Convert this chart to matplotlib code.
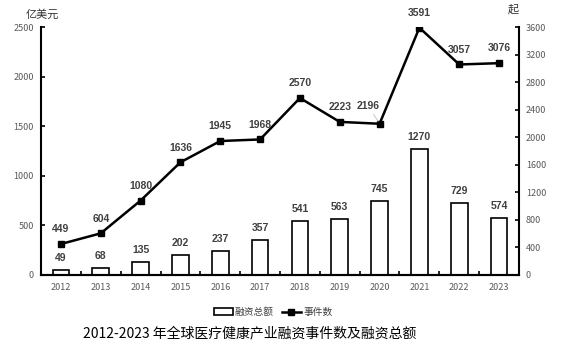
import numpy as np
import matplotlib.pyplot as plt
from matplotlib.patches import Patch
from matplotlib.lines import Line2D

plt.rcParams['font.family'] = ['Noto Sans CJK SC', 'DejaVu Sans']

years = ['2012', '2013', '2014', '2015', '2016', '2017',
         '2018', '2019', '2020', '2021', '2022', '2023']
funding = [49, 68, 135, 202, 237, 357, 541, 563, 745, 1270, 729, 574]
events = [449, 604, 1080, 1636, 1945, 1968, 2570, 2223, 2196, 3591, 3057, 3076]

label_color = '#404040'
tick_color = '#595959'

fig = plt.figure(figsize=(5.64, 3.52), dpi=100)
ax = fig.add_axes([0.0727, 0.219, 0.8475, 0.704])
ax2 = ax.twinx()

x = np.arange(len(years))

# bars - total funding
ax.bar(x, funding, width=0.42, color='white', edgecolor='black', linewidth=1.2, zorder=2)
for xi, v in zip(x, funding):
    ax.annotate(str(v), (xi, v), xytext=(0, 5), textcoords='offset points',
                ha='center', va='bottom', fontsize=7.5, fontweight='bold',
                color=label_color, family='Liberation Sans')

# line - number of events
ax2.plot(x, events, color='black', linewidth=1.8, marker='s', markersize=4.5, zorder=3)
for xi, v in zip(x, events):
    if v == 2196:
        # label moved left in the original, with a small leader line
        ax2.annotate(str(v), (xi, v), xytext=(-8, 9), textcoords='offset points',
                     ha='center', va='bottom', fontsize=7.5, fontweight='bold',
                     color=label_color, family='Liberation Sans',
                     arrowprops=dict(arrowstyle='-', color='#bfbfbf', lw=0.6,
                                     shrinkA=0, shrinkB=2))
        continue
    ax2.annotate(str(v), (xi, v), xytext=(0, 7), textcoords='offset points',
                 ha='center', va='bottom', fontsize=7.5, fontweight='bold',
                 color=label_color, family='Liberation Sans')

ax.set_xlim(-0.5, len(years) - 0.5)
ax.set_ylim(0, 2500)
ax.set_yticks(np.arange(0, 2501, 500))
ax2.set_ylim(0, 3600)
ax2.set_yticks(np.arange(0, 3601, 400))

# ticks on the category boundaries
ax.set_xticks(x)
ax.set_xticklabels(years)
ax.set_xticks(np.arange(-0.5, len(years)), minor=True)
ax.tick_params(axis='x', which='major', length=0, labelsize=6.5, colors=tick_color, pad=6)
ax.tick_params(axis='x', which='minor', direction='in', length=3, width=1.2, color='black')
ax.tick_params(axis='y', direction='in', length=3, width=1.2, color='black',
               labelsize=6.5, labelcolor=tick_color, pad=5)
ax2.tick_params(axis='y', direction='in', length=3, width=1.2, color='black',
                labelsize=6.5, labelcolor=tick_color, pad=5)

for a in (ax, ax2):
    a.spines['top'].set_visible(False)
    for s in ('left', 'right', 'bottom'):
        a.spines[s].set_linewidth(1.5)
ax2.spines['left'].set_visible(False)
ax.spines['right'].set_visible(False)

fig.text(0.045, 0.96, '亿美元', fontsize=8, ha='left', va='center', color='#333333')
fig.text(0.9, 0.972, '起', fontsize=8, ha='left', va='center', color='#333333')

handles = [Patch(facecolor='white', edgecolor='black', linewidth=1.2),
           Line2D([0], [0], color='black', linewidth=1.8, marker='s', markersize=4)]
fig.legend(handles, ['融资总额', '事件数'], loc='center', bbox_to_anchor=(0.484, 0.114),
           ncol=2, frameon=False, fontsize=7, labelcolor=label_color,
           handlelength=2.0, handleheight=0.6, handletextpad=0.2, columnspacing=0.8)

fig.text(0.443, 0.052, '2012-2023 年全球医疗健康产业融资事件数及融资总额',
         fontsize=10, ha='center', va='center', color='black')

fig.savefig('out.png', dpi=100)
